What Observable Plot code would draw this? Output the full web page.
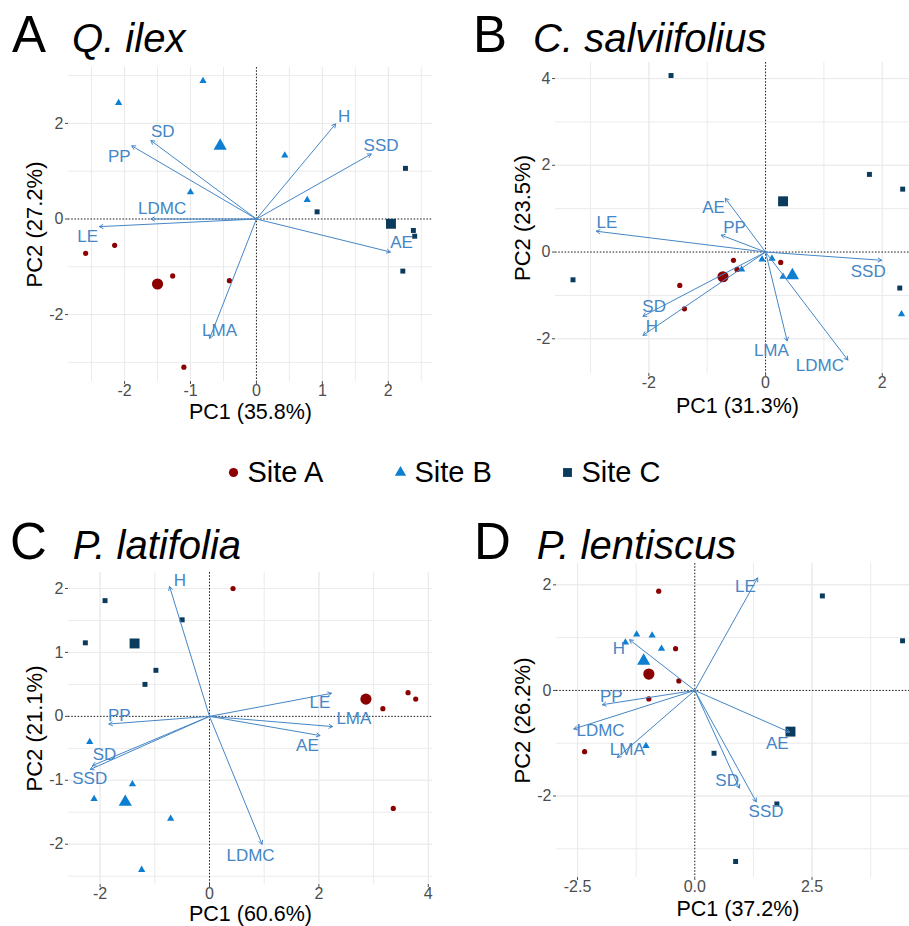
<!DOCTYPE html>
<html>
<head>
<meta charset="utf-8">
<script src="https://cdn.jsdelivr.net/npm/d3@7"></script>
<script src="https://cdn.jsdelivr.net/npm/@observablehq/plot@0.6"></script>
<style>
  html, body { margin: 0; padding: 0; background: #fff; }
  #fig { position: relative; width: 909px; height: 926px; overflow: hidden; background: #fff;
         font-family: "Liberation Sans", Arial, Helvetica, sans-serif; }
  .slot { position: absolute; }
  .title { position: absolute; font-size: 51px; line-height: 1; color: #000; white-space: nowrap; }
  .title .sp { font-size: 40px; font-style: italic; margin-left: 26px; }
</style>
</head>
<body>
<div id="fig">
  <div class="slot" id="pA" style="left:0;top:0"></div>
  <div class="slot" id="pB" style="left:450px;top:0"></div>
  <div class="slot" id="leg" style="left:0;top:450px"></div>
  <div class="slot" id="pC" style="left:0;top:490px"></div>
  <div class="slot" id="pD" style="left:450px;top:490px"></div>
  <div class="title" style="left:12px;top:9px">A<span class="sp">Q. ilex</span></div>
  <div class="title" style="left:473px;top:9px">B<span class="sp">C. salviifolius</span></div>
  <div class="title" style="left:10px;top:516px">C<span class="sp">P. latifolia</span></div>
  <div class="title" style="left:474px;top:516px">D<span class="sp">P. lentiscus</span></div>
</div>
<script>
// ---------- data ----------
const sites = ["Site A", "Site B", "Site C"];
const traits = ["LE", "LMA", "LDMC", "SD", "SSD", "H", "AE", "PP"];

// Panel A: Q. ilex
const qIlexAxisLabels = ["PC1 (35.8%)", "PC2 (27.2%)"];
const qIlexLoadings = [[-2.38,-0.16],[-0.71,-2.50],[-1.60,0.00],[-1.60,1.64],[1.74,1.36],[1.20,1.99],[2.03,-0.69],[-1.89,1.53]];
const qIlexLabelAt  = [[-2.56,-0.37],[-0.56,-2.33],[-1.43,0.21],[-1.42,1.84],[1.89,1.53],[1.33,2.15],[2.20,-0.49],[-2.08,1.31]];
const qIlexSiteA = [[-2.59,-0.72],[-2.15,-0.55],[-1.27,-1.19],[-0.41,-1.29],[-1.10,-3.10]];
const qIlexSiteB = [[-2.09,2.43],[-0.81,2.89],[0.43,1.33],[-1.00,0.56],[0.77,0.40]];
const qIlexSiteC = [[2.26,1.06],[0.92,0.15],[2.38,-0.24],[2.40,-0.36],[2.22,-1.09]];
const qIlexMeans = [[-1.50,-1.36],[-0.55,1.53],[2.04,-0.10]];
const qIlexXTicks = [-2,-1,0,1,2], qIlexYTicks = [-2,0,2];
const qIlexXGrid = [-2.5,-2,-1.5,-1,-0.5,0.5,1,1.5,2,2.5], qIlexYGrid = [-3,-2,-1,1,2,3];

// Panel B: C. salviifolius
const cSalAxisLabels = ["PC1 (31.3%)", "PC2 (23.5%)"];
const cSalLoadings = [[-2.90,0.48],[0.37,-2.05],[1.41,-2.49],[-2.10,-1.48],[1.99,-0.19],[-2.10,-1.92],[-0.69,1.24],[-0.76,0.39]];
const cSalLabelAt  = [[-2.72,0.69],[0.10,-2.28],[0.93,-2.62],[-1.91,-1.25],[1.76,-0.44],[-1.95,-1.72],[-0.89,1.02],[-0.53,0.57]];
const cSalSiteA = [[-0.55,-0.19],[0.26,-0.24],[-0.49,-0.40],[-1.47,-0.77],[-1.39,-1.31]];
const cSalSiteB = [[2.33,-1.43],[0.30,-0.57],[-0.06,-0.17],[0.11,-0.15],[-0.41,-0.40]];
const cSalSiteC = [[-1.62,4.07],[1.78,1.79],[2.35,1.45],[-3.30,-0.64],[2.30,-0.83]];
const cSalMeans = [[-0.73,-0.57],[0.46,-0.54],[0.30,1.17]];
const cSalXTicks = [-2,0,2], cSalYTicks = [-2,0,2,4];
const cSalXGrid = [-3,-2,-1,1,2], cSalYGrid = [-2,-1,1,2,3,4];

// Panel C: P. latifolia
const pLatAxisLabels = ["PC1 (60.6%)", "PC2 (21.1%)"];
const pLatLoadings = [[2.23,0.36],[2.25,-0.16],[0.96,-2.00],[-2.14,-0.77],[-2.18,-0.83],[-0.73,2.03],[2.02,-0.30],[-1.84,-0.12]];
const pLatLabelAt  = [[2.02,0.21],[2.64,-0.03],[0.75,-2.18],[-1.92,-0.60],[-2.19,-0.98],[-0.54,2.12],[1.79,-0.46],[-1.65,0.01]];
const pLatSiteA = [[0.43,2.00],[3.17,0.12],[3.63,0.37],[3.77,0.27],[3.36,-1.44]];
const pLatSiteB = [[-2.19,-0.40],[-1.41,-1.06],[-2.11,-1.29],[-0.71,-1.60],[-1.24,-2.40]];
const pLatSiteC = [[-1.91,1.81],[-0.50,1.51],[-2.27,1.15],[-0.98,0.72],[-1.18,0.50]];
const pLatMeans = [[2.86,0.27],[-1.54,-1.34],[-1.37,1.14]];
const pLatXTicks = [-2,0,2,4], pLatYTicks = [-2,-1,0,1,2];
const pLatXGrid = [-2,-1,1,2,3,4], pLatYGrid = [-2.5,-2,-1.5,-1,-0.5,0.5,1,1.5,2];

// Panel D: P. lentiscus
const pLenAxisLabels = ["PC1 (37.2%)", "PC2 (26.2%)"];
const pLenLoadings = [[1.34,2.13],[-1.65,-1.27],[-2.58,-0.73],[0.95,-1.85],[1.31,-2.11],[-1.39,0.96],[2.02,-0.79],[-1.97,-0.27]];
const pLenLabelAt  = [[1.08,1.96],[-1.44,-1.12],[-2.01,-0.76],[0.69,-1.71],[1.52,-2.30],[-1.62,0.79],[1.76,-1.01],[-1.78,-0.11]];
const pLenSiteA = [[-0.77,1.88],[-0.41,0.79],[-0.34,0.18],[-0.98,-0.16],[-2.35,-1.16]];
const pLenSiteB = [[-1.24,1.06],[-0.91,1.04],[-0.71,0.79],[-1.48,0.91],[-1.04,-1.05]];
const pLenSiteC = [[2.72,1.79],[4.43,0.94],[0.41,-1.19],[1.75,-2.15],[0.87,-3.24]];
const pLenMeans = [[-0.98,0.31],[-1.09,0.56],[2.04,-0.78]];
const pLenXTicks = [-2.5,0,2.5], pLenYTicks = [-2,0,2];
const pLenXGrid = [-2.5,-1.25,1.25,2.5,3.75], pLenYGrid = [-3,-2,-1,1,2];

// ---------- styles ----------
const FONT = '"Liberation Sans", Arial, Helvetica, sans-serif';
const siteColors = ["#8B0000", "#0C7FD3", "#0A3A5C"];
const siteSymbols = ["circle", "triangle", "square"];
const smallR = {"Site A": 2.6, "Site B": 2.7, "Site C": 2.8};
const bigR = {"Site A": 5.6, "Site B": 4.9, "Site C": 5.6};
const varColor = "#4586C6";

function panel(cfg) {
  const siteArrays = cfg.points;
  const pts = sites.flatMap((s, i) => siteArrays[i].map(([x, y]) => ({site: s, x, y})));
  const mns = sites.map((s, i) => ({site: s, x: cfg.means[i][0], y: cfg.means[i][1]}));
  const vars = traits.map((t, i) => ({trait: t, x: cfg.loadings[i][0], y: cfg.loadings[i][1],
                                      lx: cfg.labelAt[i][0], ly: cfg.labelAt[i][1]}));
  const fmt = cfg.xFmt || (d => String(d));
  return Plot.plot({
    width: cfg.width, height: cfg.height,
    marginLeft: cfg.m[0], marginRight: cfg.m[1], marginTop: cfg.m[2], marginBottom: cfg.m[3],
    x: {domain: cfg.xDomain},
    y: {domain: cfg.yDomain},
    r: {type: "identity"},
    symbol: {domain: sites, range: siteSymbols},
    color: {domain: sites, range: siteColors},
    style: {fontFamily: FONT, background: "transparent", overflow: "visible"},
    marks: [
      Plot.ruleX(cfg.xGrid, {stroke: "#ebebeb", strokeWidth: 1}),
      Plot.ruleY(cfg.yGrid, {stroke: "#ebebeb", strokeWidth: 1}),
      Plot.ruleX(cfg.xTicks.filter(d => d !== 0), {stroke: "#ebebeb", strokeWidth: 1}),
      Plot.ruleY(cfg.yTicks.filter(d => d !== 0), {stroke: "#ebebeb", strokeWidth: 1}),
      Plot.ruleX([0], {stroke: "#222", strokeWidth: 1, strokeDasharray: "1.6,1.6"}),
      Plot.ruleY([0], {stroke: "#222", strokeWidth: 1, strokeDasharray: "1.6,1.6"}),
      Plot.axisX({ticks: cfg.xTicks, tickFormat: fmt, tickSize: 3, tickPadding: 0, fontSize: 16,
                  color: "#4d4d4d", label: null}),
      Plot.axisY({ticks: cfg.yTicks, tickFormat: d => String(d), tickSize: 3, tickPadding: 2, fontSize: 16,
                  color: "#4d4d4d", label: null}),
      Plot.dot(pts, {x: "x", y: "y", symbol: "site", fill: "site", r: d => smallR[d.site]}),
      Plot.dot(mns, {x: "x", y: "y", symbol: "site", fill: "site", r: d => bigR[d.site]}),
      Plot.arrow(vars, {x1: () => 0, y1: () => 0, x2: "x", y2: "y", stroke: varColor,
                        strokeWidth: 1, headLength: 6, headAngle: 60}),
      Plot.text(vars, {x: "lx", y: "ly", text: "trait", fill: varColor, fontSize: 17,
                       textAnchor: "middle", lineAnchor: "middle"}),
      Plot.text([cfg.axisLabels[0]], {text: d => d, frameAnchor: "bottom", dx: cfg.xl[0], dy: cfg.xl[1],
                       fontSize: 21.5, fill: "#000", lineAnchor: "middle"}),
      Plot.text([cfg.axisLabels[1]], {text: d => d, frameAnchor: "left", dx: cfg.yl, rotate: -90,
                       fontSize: 22, fill: "#000", lineAnchor: "middle", textAnchor: "middle"})
    ]
  });
}

document.getElementById("pA").append(panel({
  width: 450, height: 430, m: [68, 18, 67, 49],
  xDomain: [-2.85, 2.67], yDomain: [-3.40, 3.17],
  xTicks: qIlexXTicks, yTicks: qIlexYTicks, xGrid: qIlexXGrid, yGrid: qIlexYGrid,
  loadings: qIlexLoadings, labelAt: qIlexLabelAt,
  points: [qIlexSiteA, qIlexSiteB, qIlexSiteC], means: qIlexMeans,
  axisLabels: qIlexAxisLabels, xl: [0, 31], yl: -34
}));

document.getElementById("pB").append(panel({
  width: 459, height: 430, m: [105, 0, 62, 57],
  xDomain: [-3.6, 2.467], yDomain: [-2.80, 4.37],
  xTicks: cSalXTicks, yTicks: cSalYTicks, xGrid: cSalXGrid, yGrid: cSalYGrid,
  loadings: cSalLoadings, labelAt: cSalLabelAt,
  points: [cSalSiteA, cSalSiteB, cSalSiteC], means: cSalMeans,
  axisLabels: cSalAxisLabels, xl: [5, 33], yl: -33
}));

document.getElementById("pC").append(panel({
  width: 450, height: 436, m: [68, 18, 82, 42],
  xDomain: [-2.578, 4.077], yDomain: [-2.63, 2.25],
  xTicks: pLatXTicks, yTicks: pLatYTicks, xGrid: pLatXGrid, yGrid: pLatYGrid,
  loadings: pLatLoadings, labelAt: pLatLabelAt,
  points: [pLatSiteA, pLatSiteB, pLatSiteC], means: pLatMeans,
  axisLabels: pLatAxisLabels, xl: [0, 29.5], yl: -34
}));

document.getElementById("pD").append(panel({
  width: 459, height: 436, m: [106, 0, 73, 49],
  xDomain: [-2.949, 4.578], yDomain: [-3.543, 2.404],
  xTicks: pLenXTicks, yTicks: pLenYTicks, xGrid: pLenXGrid, yGrid: pLenYGrid,
  xFmt: d => d.toFixed(1),
  loadings: pLenLoadings, labelAt: pLenLabelAt,
  points: [pLenSiteA, pLenSiteB, pLenSiteC], means: pLenMeans,
  axisLabels: pLenAxisLabels, xl: [5, 32], yl: -34
}));

// legend
const legR = {"Site A": 4.6, "Site B": 4.2, "Site C": 5.0};
document.getElementById("leg").append(Plot.plot({
  width: 909, height: 44, margin: 0,
  x: {type: "point", domain: sites, range: [232.7, 568.3], padding: 0, axis: null},
  r: {type: "identity"},
  symbol: {domain: sites, range: siteSymbols},
  color: {domain: sites, range: siteColors},
  style: {fontFamily: FONT, background: "transparent", overflow: "visible"},
  marks: [
    Plot.dot(sites, {x: d => d, frameAnchor: "middle", symbol: d => d, fill: d => d, r: d => legR[d], dy: 0}),
    Plot.text(sites, {x: d => d, frameAnchor: "middle", text: d => d, dx: 14, dy: 0,
                      textAnchor: "start", fontSize: 29, fill: "#000"})
  ]
}));
</script>
</body>
</html>
